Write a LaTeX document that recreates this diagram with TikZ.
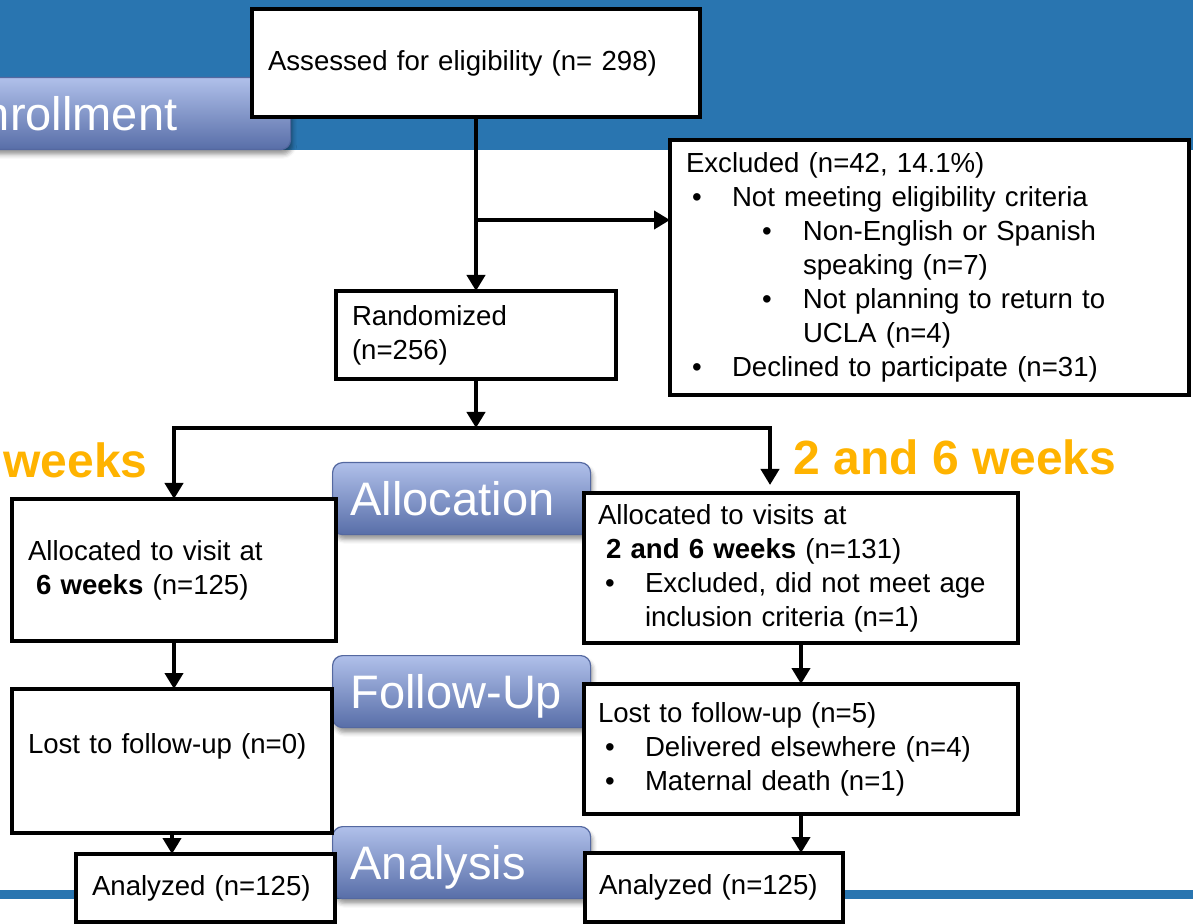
\documentclass[tikz,border=0pt]{standalone}
\usepackage{fontspec}
\setmainfont{Liberation Sans}
\usepackage{xcolor}
\usepackage{tikz}
\usetikzlibrary{arrows.meta, calc, shadows.blur}
\definecolor{bandblue}{RGB}{41,117,176}
\definecolor{tabtop}{RGB}{176,192,234}
\definecolor{tabbot}{RGB}{88,110,168}
\definecolor{tabedge}{RGB}{84,104,160}
\definecolor{armorange}{RGB}{255,179,0}
\newcommand{\blt}[2]{\hspace*{#1}\makebox[#2][l]{\textbullet}}

\begin{document}
\begin{tikzpicture}[
  x=0.5pt, y=-0.5pt,
  font=\fontsize{13.8}{17}\selectfont,
  flowbox/.style={draw=black, fill=white, line width=2.2pt, anchor=north west, align=left, inner xsep=8pt, inner ysep=0pt, outer sep=0pt},
  phasetab/.style={draw=tabedge, line width=0.6pt, rounded corners=5pt, top color=tabtop, bottom color=tabbot, text=white, anchor=north west, align=left, inner xsep=9pt, minimum width=129pt, text width=111pt, minimum height=36pt, text height=17pt, text depth=0pt, font=\fontsize{23.5}{28}\selectfont, blur shadow={shadow xshift=1pt, shadow yshift=-2.5pt}},
  armlabel/.style={text=armorange, font=\fontsize{24}{28}\selectfont\bfseries, inner sep=0pt},
  flow/.style={line width=2pt, -{Triangle[width=9pt,length=8pt]}}
]
\useasboundingbox (0,0) rectangle (1193,924);
\clip (0,0) rectangle (1193,924);
\fill[bandblue] (0,0) rectangle (1193,150);
\fill[bandblue] (0,890) rectangle (1193,899);

\node[phasetab, minimum width=178pt, text width=160pt] (enrolTab) at (-66,77) {Enrollment};
\node[phasetab] (allocTab) at (332,462) {Allocation};
\node[phasetab] (followTab) at (332,655) {Follow-Up};
\node[phasetab] (analysisTab) at (332,826) {Analysis};

\node[armlabel, anchor=base east] (armSix) at (148,478) {6 weeks};
\node[armlabel, anchor=base west] (armTwoSix) at (793,474) {2 and 6 weeks};

\node[flowbox, text width=208pt, minimum height=54pt] (assessed) at (252,9) {Assessed for eligibility (n= 298)};
\node[flowbox, text width=243.5pt, minimum height=127.5pt] (excluded) at (670,140) {
  Excluded (n=42, 14.1\%)\\
  \blt{3pt}{20pt}Not meeting eligibility criteria\\
  \blt{38pt}{20.5pt}Non-English or Spanish\\
  \hspace*{58.5pt}speaking (n=7)\\
  \blt{38pt}{20.5pt}Not planning to return to\\
  \hspace*{58.5pt}UCLA (n=4)\\
  \blt{3pt}{20pt}Declined to participate (n=31)
};
\node[flowbox, text width=124pt, minimum height=44pt] (randomized) at (336,291) {Randomized\\(n=256)};
\node[flowbox, text width=146pt, minimum height=71pt] (allocSix) at (12,499) {Allocated to visit at\\\hspace*{4pt}\textbf{6 weeks} (n=125)};
\node[flowbox, inner xsep=7pt, text width=203pt, minimum height=75pt] (allocTwoSix) at (584,493) {
  Allocated to visits at\\
  \hspace*{4pt}\textbf{2 and 6 weeks} (n=131)\\
  \blt{3.5pt}{20pt}Excluded, did not meet age\\
  \hspace*{23.5pt}inclusion criteria (n=1)
};
\node[flowbox, text width=144pt, minimum height=72pt, text depth=18pt] (lostSix) at (12,689) {Lost to follow-up (n=0)};
\node[flowbox, inner xsep=7pt, text width=203pt, minimum height=65pt] (lostTwoSix) at (584,684) {
  Lost to follow-up (n=5)\\
  \blt{3.5pt}{20pt}Delivered elsewhere (n=4)\\
  \blt{3.5pt}{20pt}Maternal death (n=1)
};
\node[flowbox, text width=113.5pt, minimum height=34pt] (analyzedSix) at (76,854) {Analyzed (n=125)};
\node[flowbox, inner xsep=7pt, text width=115pt, minimum height=34.5pt] (analyzedTwoSix) at (585,853) {Analyzed (n=125)};

\coordinate (assessSplit) at (476,220);
\coordinate (randSplit) at (476,428);
\coordinate (armRight) at (770,485);

\draw[flow] (assessed.south) -- (randomized.north);
\draw[flow] (assessSplit) -- (assessSplit -| excluded.west);
\draw[flow] (randomized.south) -- (randSplit);
\draw[flow] (randSplit) -| (allocSix.north);
\draw[flow] (randSplit) -| (armRight);
\draw[flow] (allocSix.south) -- (allocSix.south |- lostSix.north);
\draw[flow] (allocTwoSix.south) -- (lostTwoSix.north);
\draw[flow] (lostSix.south) -- (lostSix.south |- analyzedSix.north);
\draw[flow] (lostTwoSix.south) -- (lostTwoSix.south |- analyzedTwoSix.north);
\end{tikzpicture}
\end{document}
